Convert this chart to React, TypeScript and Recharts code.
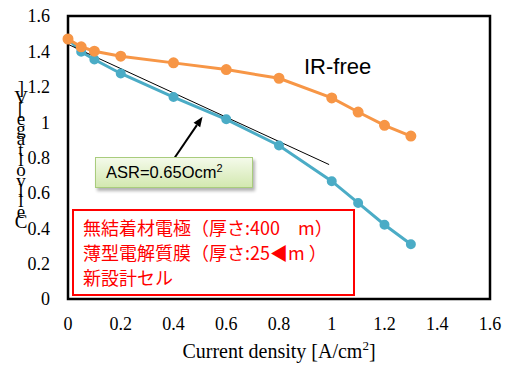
import { ComposedChart, Line, XAxis, YAxis, ReferenceArea, ReferenceLine } from 'recharts';

// current density [A/cm2] and measured voltages [V]
const currentDensity = [0, 0.05, 0.1, 0.2, 0.4, 0.6, 0.8, 1.0, 1.1, 1.2, 1.3];
const irFreeVoltage = [1.47, 1.426, 1.401, 1.373, 1.335, 1.297, 1.248, 1.137, 1.057, 0.982, 0.921];
const cellVoltage = [1.47, 1.398, 1.354, 1.275, 1.142, 1.016, 0.868, 0.666, 0.543, 0.42, 0.31];

// linear fit for ASR
const fitCurrent = [0, 0.99];
const fitVoltage = [1.44, 0.76];

// arrow pointing to the fit line
const arrowFrom = { x: 0.405, y: 0.8 };
const arrowTo = { x: 0.51, y: 1.03 };

const axisTicks = [0, 0.2, 0.4, 0.6, 0.8, 1.0, 1.2, 1.4, 1.6];
const yLabel = 'Cell voltage [V]';
const xLabel = 'Current density [A/cm';
const noteLines = ['無結着材電極（厚さ:400　m）', '薄型電解質膜（厚さ:25◀m ）', '新設計セル'];

const irFreeData = currentDensity.map((x, i) => ({ x, v: irFreeVoltage[i] }));
const cellData = currentDensity.map((x, i) => ({ x, v: cellVoltage[i] }));
const fitData = fitCurrent.map((x, i) => ({ x, v: fitVoltage[i] }));

const fmt = (v: number) => String(Number(v.toFixed(1)));
const serif = '"Liberation Serif", "Times New Roman", serif';

const XTick = (props: any) => (
    <text x={props.x} y={props.y} dy="0.71em" textAnchor="middle" fill="#000"
        fontFamily="Liberation Serif" fontSize={18} style={{ fontFamily: serif, fontSize: 18 }}>
        {fmt(props.payload.value)}
    </text>
);

const YTick = (props: any) => (
    <text x={props.x} y={props.y} dy="0.355em" textAnchor="end" fill="#000"
        fontFamily="Liberation Serif" fontSize={18} style={{ fontFamily: serif, fontSize: 18 }}>
        {fmt(props.payload.value)}
    </text>
);

const Arrow = (props: any) => {
    const { x1, y1, x2, y2 } = props;
    const ang = Math.atan2(y2 - y1, x2 - x1);
    const len = 10;
    const w = 4;
    const bx = x2 - len * Math.cos(ang);
    const by = y2 - len * Math.sin(ang);
    const px = -Math.sin(ang) * w;
    const py = Math.cos(ang) * w;
    return (
        <g>
            <line x1={x1} y1={y1} x2={bx} y2={by} stroke="#000" strokeWidth={2} />
            <polygon points={`${x2},${y2} ${bx + px},${by + py} ${bx - px},${by - py}`} fill="#000" />
        </g>
    );
};

export default function App() {
    return (
        <div style={{ position: 'absolute', left: 0, top: 0, width: 510, height: 365, background: '#fff' }}>
            <ComposedChart width={510} height={365} margin={{ top: 16, right: 20, left: 0, bottom: 0 }}
                style={{ fontFamily: serif }}>
                <XAxis
                    type="number"
                    dataKey="x"
                    domain={[0, 1.6]}
                    ticks={axisTicks}
                    axisLine={false}
                    tickLine={false}
                    tickSize={0}
                    tickMargin={18}
                    height={66}
                    tick={<XTick />}
                    allowDuplicatedCategory={false}
                />
                <YAxis
                    type="number"
                    domain={[0, 1.6]}
                    ticks={axisTicks}
                    axisLine={false}
                    tickLine={false}
                    tickSize={0}
                    tickMargin={18}
                    width={68}
                    tick={<YTick />}
                />
                <ReferenceArea x1={0} x2={1.6} y1={0} y2={1.6} fill="none" stroke="#000" strokeWidth={2.5} ifOverflow="visible" />
                <Line
                    data={cellData}
                    dataKey="v"
                    stroke="#4bacc6"
                    strokeWidth={3}
                    dot={{ r: 3.5, fill: '#4bacc6', stroke: '#4bacc6' }}
                    isAnimationActive={false}
                />
                <Line
                    data={fitData}
                    dataKey="v"
                    stroke="#000"
                    strokeWidth={1}
                    dot={false}
                    isAnimationActive={false}
                />
                <Line
                    data={irFreeData}
                    dataKey="v"
                    stroke="#f79646"
                    strokeWidth={3}
                    dot={{ r: 4, fill: '#f79646', stroke: '#f79646' }}
                    isAnimationActive={false}
                />
                <ReferenceLine segment={[arrowFrom, arrowTo]} shape={Arrow} ifOverflow="visible" />
            </ComposedChart>

            {/* stacked y-axis title, as in the original export (spaces dropped) */}
            <div style={{ position: 'absolute', left: 11, top: 83, width: 20, fontFamily: serif, fontSize: 19, lineHeight: '10.3px', textAlign: 'center', color: '#000' }}>
                {yLabel.replace(/ /g, '').split('').reverse().map((c, i) => (
                    <div key={i} style={{ height: 10.3 }}>{c}</div>
                ))}
            </div>

            <div style={{ position: 'absolute', left: 0, width: 558, top: 338, textAlign: 'center', fontFamily: serif, fontSize: 20, color: '#000' }}>
                {xLabel}<sup style={{ fontSize: 13 }}>2</sup>]
            </div>

            <div style={{ position: 'absolute', left: 304, top: 55, fontFamily: '"Liberation Sans", Arial, sans-serif', fontSize: 22, lineHeight: '24px', color: '#000' }}>
                IR-free
            </div>

            <div style={{
                position: 'absolute', left: 95, top: 157, width: 158, height: 31, boxSizing: 'border-box',
                border: '1px solid #a9cc7d', background: 'linear-gradient(#f4faea, #d3e8b0)',
                boxShadow: '2px 3px 3px rgba(0,0,0,0.3)', paddingLeft: 10,
                fontFamily: '"Liberation Sans", Arial, sans-serif', fontSize: 16.5, lineHeight: '29px', color: '#000'
            }}>
                ASR=0.65Ocm<sup style={{ fontSize: 11, lineHeight: 0 }}>2</sup>
            </div>

            <div style={{
                position: 'absolute', left: 72, top: 209, width: 283, height: 87, boxSizing: 'border-box',
                border: '2px solid #ff0000', background: '#fff', padding: '4px 0 0 9px',
                fontFamily: '"Noto Sans CJK JP", sans-serif', fontSize: 18, lineHeight: '25px', color: '#ff0000', whiteSpace: 'pre'
            }}>
                {noteLines.map((l, i) => <div key={i}>{l}</div>)}
            </div>
        </div>
    );
}
